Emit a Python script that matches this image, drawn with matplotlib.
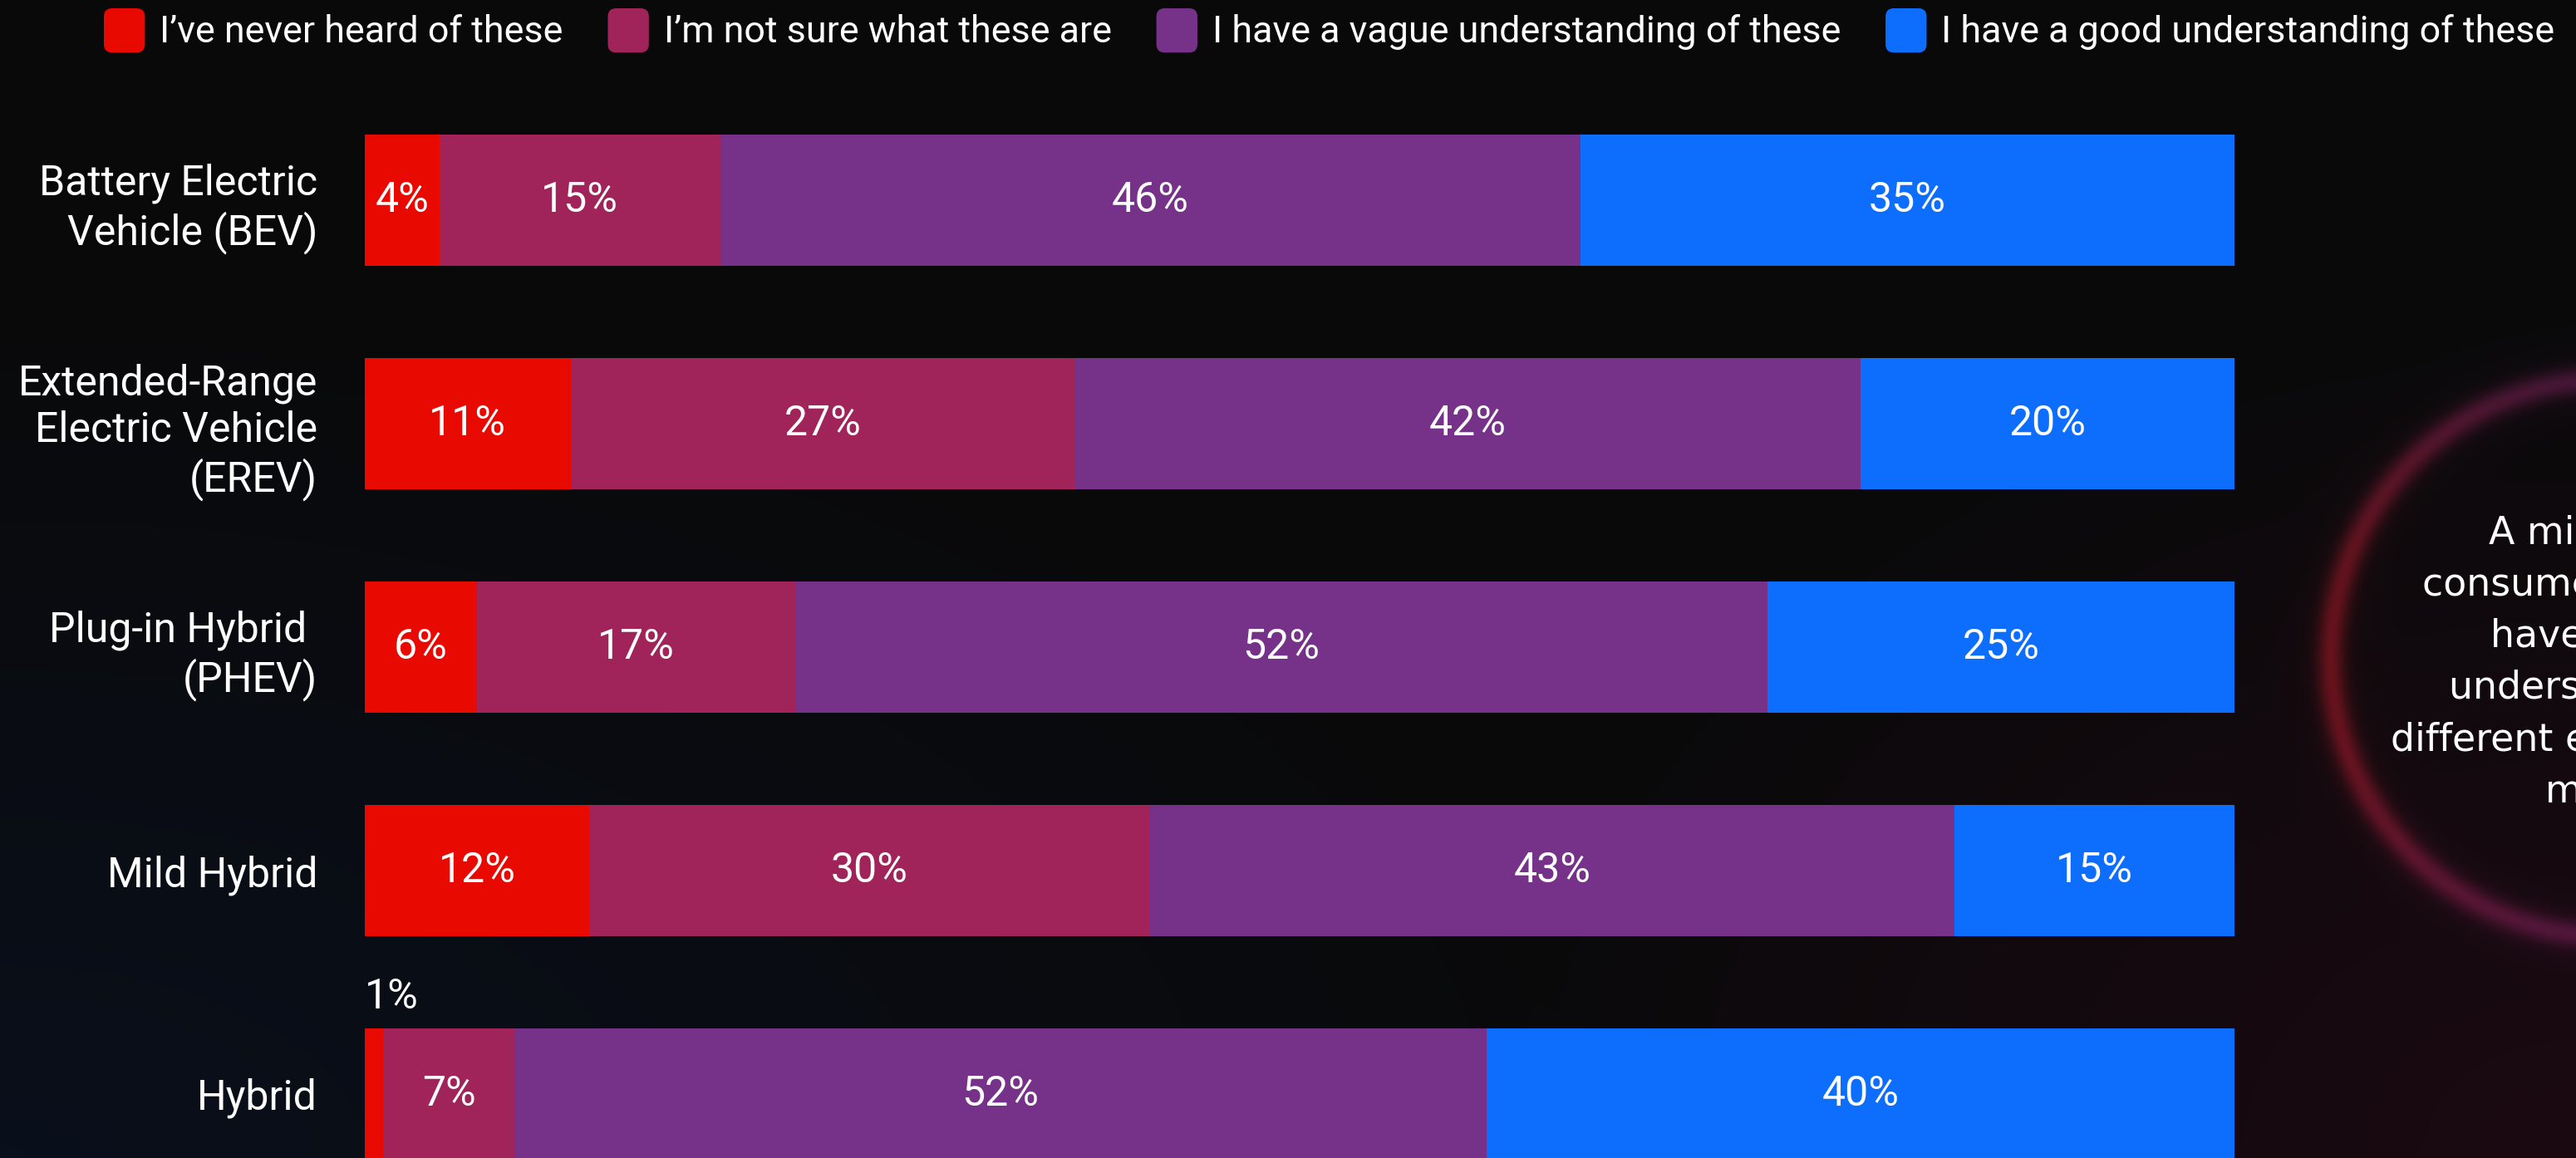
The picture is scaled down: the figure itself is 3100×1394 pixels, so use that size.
import numpy as np
import matplotlib
matplotlib.use("Agg")
import matplotlib.pyplot as plt
from matplotlib.patches import FancyBboxPatch, Patch
from matplotlib.legend_handler import HandlerPatch

# ---- data -------------------------------------------------------------
categories = [
    "Battery Electric\nVehicle (BEV)",
    "Extended-Range\nElectric Vehicle\n(EREV)",
    "Plug-in Hybrid \n(PHEV)",
    "Mild Hybrid",
    "Hybrid",
]
series_names = [
    "I\u2019ve never heard of these",
    "I\u2019m not sure what these are",
    "I have a vague understanding of these",
    "I have a good understanding of these",
]
never_heard = [4, 11, 6, 12, 1]
not_sure = [15, 27, 17, 30, 7]
vague = [46, 42, 52, 43, 52]
good = [35, 20, 25, 15, 40]
series_colors = ["#E80A00", "#A0235A", "#763289", "#0D6EFD"]

callout_lines = [
    "A minority of",
    "consumers feel they",
    "have a good",
    "understanding of the",
    "different electrified",
    "models",
]

FONT = ["Roboto", "DejaVu Sans"]
W, H = 3100, 1394

fig = plt.figure(figsize=(W / 100, H / 100), dpi=100)
fig.patch.set_facecolor("#0a0a0b")

# ---- background: dark gradient with a glowing ring on the right ------
bg = fig.add_axes([0, 0, 1, 1], zorder=0)
nx, ny = 1550, 697
xs = (np.arange(nx) + 0.5) * W / nx
ys = (np.arange(ny) + 0.5) * H / ny
xx, yy = np.meshgrid(xs, ys)

img = np.zeros((ny, nx, 3))
img[:] = np.array([0.038, 0.038, 0.042])
t_blue = np.clip(1 - np.hypot(xx / 1900, (yy - H) / 1000), 0, 1)
img += t_blue[..., None] * np.array([0.0, 0.022, 0.065])
t_red = np.clip(1 - np.hypot((xx - W) / 1300, (yy - H) / 1000), 0, 1)
img += t_red[..., None] * np.array([0.070, 0.0, 0.028])

cx, cy, R = 3140, 792, 335
d = np.hypot(xx - cx, yy - cy)
theta = np.arctan2(yy - cy, xx - cx)
left = np.clip(-np.cos(theta), 0, 1) ** 2
ring_red = np.array([0.30, 0.032, 0.050])
ring_purple = np.array([0.20, 0.045, 0.150])
ring_col = left[..., None] * ring_red + (1 - left[..., None]) * ring_purple
intensity = np.exp(-((d - R) / 16) ** 2) + 0.12 * np.exp(-((d - R) / 40) ** 2)
img += intensity[..., None] * ring_col
img = np.clip(img, 0, 1)

bg.imshow(img, extent=(0, W, H, 0), aspect="auto", interpolation="bilinear")
bg.set_xlim(0, W)
bg.set_ylim(H, 0)
bg.axis("off")

# callout text inside the ring
line_starts = [2995, 2915, 2997, 2947, 2877, 3063]
line_base = [655, 717, 779, 841, 903, 965]
for txt, x0, y0 in zip(callout_lines, line_starts, line_base):
    bg.text(x0, y0, txt, color="white", fontsize=33, family="DejaVu Sans",
            fontweight="normal", ha="left", va="baseline", clip_on=False)

# ---- stacked bars ------------------------------------------------------
ax = fig.add_axes([439 / W, 0, 2250 / W, 1], zorder=2)
ax.patch.set_alpha(0)
row_pitch = 269
y_top = -241 / row_pitch
y_bot = (H - 241) / row_pitch
ax.set_ylim(y_bot, y_top)
ax.set_xlim(0, 100)

bar_h = 0.59
pos = np.arange(len(categories))
series = [never_heard, not_sure, vague, good]
lefts = np.zeros(len(categories))
for vals, col in zip(series, series_colors):
    vals = np.array(vals, dtype=float)
    ax.barh(pos, vals, left=lefts, height=bar_h, color=col, edgecolor="none")
    for i, v in enumerate(vals):
        if v >= 3:
            ax.text(lefts[i] + v / 2, pos[i], f"{int(v)}%", ha="center", va="center",
                    color="white", fontsize=36, family=FONT)
        else:
            ax.text(lefts[i], pos[i] - bar_h / 2 - 0.14, f"{int(v)}%", ha="left",
                    va="center", color="white", fontsize=36, family=FONT)
    lefts += vals

ax.set_yticks(pos)
ax.set_yticklabels(categories, fontsize=36, color="white", family=FONT, linespacing=1.22)
ax.tick_params(axis="y", length=0, pad=41)
ax.set_xticks([])
for s in ax.spines.values():
    s.set_visible(False)


# ---- legend with rounded swatches ---------------------------------------
class RoundedSwatch(HandlerPatch):
    def create_artists(self, legend, orig_handle, xdescent, ydescent, width, height,
                       fontsize, trans):
        p = FancyBboxPatch((-xdescent, -ydescent), width, height,
                           boxstyle=f"round,pad=0,rounding_size={0.2 * width}",
                           facecolor=orig_handle.get_facecolor(), edgecolor="none",
                           transform=trans)
        return [p]


handles = [Patch(facecolor=c) for c in series_colors]
leg = fig.legend(handles, series_names, loc="upper left",
                 bbox_to_anchor=(125 / W, 1 - 10 / H), bbox_transform=fig.transFigure,
                 ncol=4, frameon=False, borderpad=0, borderaxespad=0,
                 handlelength=1.1, handleheight=1.45, handletextpad=0.4,
                 columnspacing=1.2, prop={"family": FONT, "size": 32.3},
                 labelcolor="white", handler_map={Patch: RoundedSwatch()})
leg.set_zorder(3)

fig.savefig("out.png", dpi=100, facecolor=fig.get_facecolor())
